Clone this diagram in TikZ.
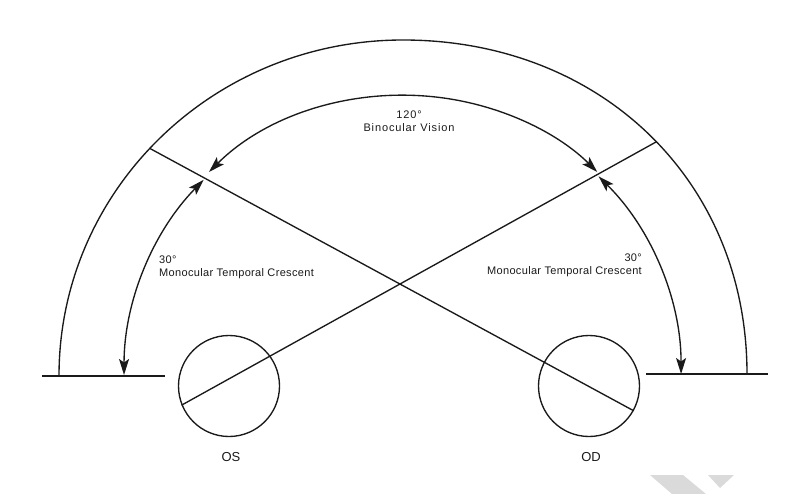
\documentclass[tikz,border=0pt]{standalone}
\usepackage{fontspec}
\setmainfont{Liberation Sans}
\newfontfamily\lblfont[LetterSpace=3]{Liberation Sans}
\newfontfamily\binfont[LetterSpace=8]{Liberation Sans}
\usetikzlibrary{arrows.meta}
\definecolor{ink}{HTML}{1A1A1A}
\definecolor{wm}{HTML}{DADADA}
\begin{document}
\begin{tikzpicture}[x=1pt,y=-1pt,
  ln/.style={line width=1.35pt, draw=ink},
  arr/.style={ln, {Stealth[length=16pt,width=10pt,inset=3.5pt]}-{Stealth[length=16pt,width=10pt,inset=3.5pt]}},
  eye/.style={circle, draw=ink, line width=1.35pt, minimum size=101pt, inner sep=0pt},
  lbl/.style={font=\lblfont\fontsize{11}{13}\selectfont, text=ink, inner sep=0pt},
  eyelbl/.style={font=\fontsize{13}{15}\selectfont, text=ink, inner sep=0pt}]
\useasboundingbox (0,0) rectangle (786,494);
% watermark
\fill[wm] (650,475) -- (683,475) -- (706,494) -- (672,494) -- cycle;
\fill[wm] (708,475) -- (734,475) -- (720,488) -- cycle;
% eyes
\node[eye] (os) at (229,386) {};
\node[eye] (od) at (589,386) {};
\node[eyelbl] (oslbl) at (231,457) {OS};
\node[eyelbl] (odlbl) at (591,457) {OD};
% baselines
\coordinate (lb1) at (42,376);
\coordinate (lb2) at (165,376);
\coordinate (rb1) at (646,374);
\coordinate (rb2) at (768,374);
\draw[ln] (lb1) -- (lb2);
\draw[ln] (rb1) -- (rb2);
% outer arc
\coordinate (ofl) at (59,376);
\coordinate (otop) at (403,40);
\coordinate (ofr) at (747,374);
\draw[ln] (ofl) .. controls (59,190) and (213,40) .. (otop)
          .. controls (600,40) and (747,180) .. (ofr);
% crossing lines
\coordinate (jl) at (150,148.5);
\coordinate (jr) at (656,142);
\draw[ln] (jl) -- (od.331.4);
\draw[ln] (jr) -- (os.202.4);
% binocular arc
\coordinate (bl) at (209,172);
\draw[arr] (bl) arc[start angle=138.8, end angle=41.2, x radius=258pt, y radius=225pt];
% monocular arcs
\coordinate (ml) at (203.7,179.8);
\draw[arr] (ml) arc[start angle=135.6, end angle=180, radius=279pt];
\coordinate (mr) at (598.6,176.4);
\draw[arr] (mr) arc[start angle=45.3, end angle=0, radius=278pt];
% labels
\node[lbl, font=\binfont\fontsize{11}{13}\selectfont, align=center] (bin) at (409,121) {120°\\Binocular Vision};
\node[lbl, align=left, anchor=west] (ltc) at (159,267) {30°\\Monocular Temporal Crescent};
\node[lbl, align=right, anchor=east] (rtc) at (642,265.5) {30°\\Monocular Temporal Crescent};
\end{tikzpicture}
\end{document}
